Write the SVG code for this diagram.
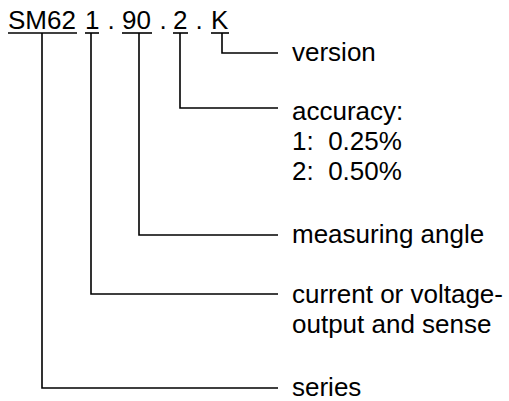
<svg xmlns="http://www.w3.org/2000/svg" width="509" height="401" viewBox="0 0 509 401">
<style>
text{font-family:"Liberation Sans",Arial,sans-serif;font-size:26px;fill:#000;white-space:pre}
.ln{stroke:#000;stroke-width:1.6;fill:none}
</style>
<rect width="509" height="401" fill="#fff"/>
<g id="code">
<text x="8" y="29">SM62</text>
<text x="85" y="29">1</text>
<text x="107.5" y="29">.</text>
<text x="122" y="29">90</text>
<text x="159.5" y="29">.</text>
<text x="173" y="29">2</text>
<text x="195.5" y="29">.</text>
<text x="211" y="29">K</text>
<g class="ln">
<line x1="8" y1="33" x2="77" y2="33"/>
<line x1="85" y1="33" x2="99" y2="33"/>
<line x1="122" y1="33" x2="152" y2="33"/>
<line x1="173" y1="33" x2="188" y2="33"/>
<line x1="211" y1="33" x2="229" y2="33"/>
</g>
</g>
<g id="connectors" class="ln">
<polyline points="222,33 222,53 278,53"/>
<polyline points="180,33 180,108 278,108"/>
<polyline points="139,33 139,235 278,235"/>
<polyline points="91,33 91,294 278,294"/>
<polyline points="42,33 42,388 278,388"/>
</g>
<g id="version"><text x="292" y="61">version</text></g>
<g id="accuracy">
<text x="292" y="120">accuracy:</text>
<text x="292" y="150" xml:space="preserve">1:  0.25%</text>
<text x="292" y="180" xml:space="preserve">2:  0.50%</text>
</g>
<g id="angle"><text x="292" y="243">measuring angle</text></g>
<g id="output">
<text x="292" y="303">current or voltage-</text>
<text x="292" y="333">output and sense</text>
</g>
<g id="series"><text x="292" y="396">series</text></g>
</svg>
